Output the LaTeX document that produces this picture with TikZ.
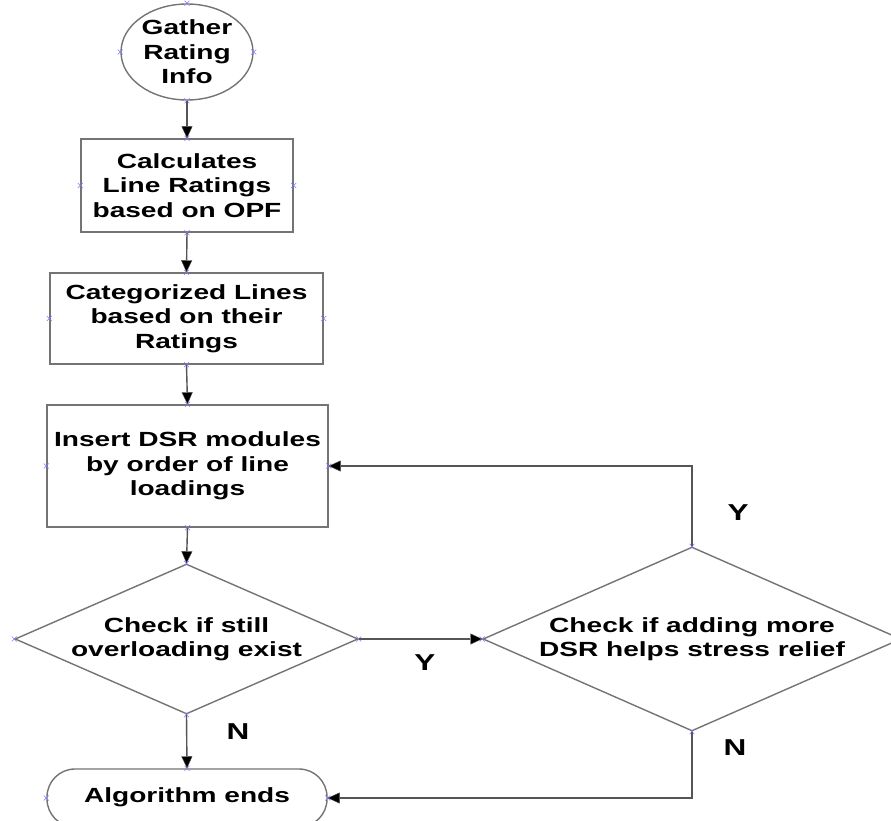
\documentclass[tikz,border=0pt]{standalone}
\usepackage{fontspec}
\setmainfont{Liberation Sans}[FakeStretch=1.37]
\usetikzlibrary{shapes.geometric,arrows.meta,calc}
\definecolor{shapegray}{HTML}{747474}
\definecolor{linegray}{HTML}{555555}
\definecolor{markblue}{HTML}{7C7CFF}
\tikzset{
  shp/.style={draw=shapegray, line width=1.4pt, inner sep=0pt, fill=white},
  boxnode/.style={shp, rectangle, align=center, font=\fontsize{20.5}{24.5}\selectfont\bfseries},
  txt/.style={align=center, inner sep=0pt, font=\fontsize{20.5}{24.5}\selectfont\bfseries},
  lbl/.style={inner sep=0pt, font=\fontsize{23}{23}\selectfont\bfseries},
  conn/.style={draw=linegray, line width=1.4pt, -{Triangle[length=12pt,width=11pt,fill=black,line width=0.4pt]}},
  cmark/.style={draw=markblue, line width=0.6pt}
}
\newcommand{\cxmark}[1]{\draw[cmark] ($(#1)+(-2.5,-2.5)$) -- ($(#1)+(2.5,2.5)$) ($(#1)+(-2.5,2.5)$) -- ($(#1)+(2.5,-2.5)$);}
\begin{document}
\begin{tikzpicture}[x=1pt,y=-1pt]
\useasboundingbox (0,0) rectangle (891,821);
\fill[white] (0,0) rectangle (891,821);
% shapes
\node[shp, ellipse, minimum width=132pt, minimum height=96pt] (start) at (187,52) {};
\node[txt] (starttxt) at (start.center) {Gather\\Rating\\Info};
\node[boxnode, minimum width=212pt, minimum height=93pt] (b1) at (187,185.5) {Calculates\\Line Ratings\\based on OPF};
\node[boxnode, minimum width=273pt, minimum height=91pt] (b2) at (186.5,318.5) {Categorized Lines\\based on their\\Ratings};
\node[boxnode, minimum width=281pt, minimum height=122pt] (b3) at (187.5,466) {Insert DSR modules\\by order of line\\loadings};
\node[shp, diamond, minimum width=343pt, minimum height=150pt] (d1) at (186.5,639) {};
\node[txt] (d1txt) at (d1.center) {Check if still\\overloading exist};
\node[shp, diamond, minimum width=418pt, minimum height=184pt] (d2) at (692,639) {};
\node[txt] (d2txt) at (d2.center) {Check if adding more\\DSR helps stress relief};
\node[shp, rectangle, rounded corners=28pt, minimum width=280pt, minimum height=58pt] (end) at (187,798) {};
\node[txt] (endtxt) at (187,797) {Algorithm ends};
% connection marks
\foreach \n in {start,b1,b2,b3,d1,d2,end}{
  \foreach \a in {north,south,east,west}{ \cxmark{\n.\a} }
}
% connectors
\draw[conn] (start.south) -- (b1.north);
\draw[conn] (b1.south) -- (b2.north);
\draw[conn] (b2.south) -- (b3.north);
\draw[conn] (b3.south) -- (d1.north);
\draw[conn] (d1.south) -- (end.north);
\draw[conn] (d1.east) -- (d2.west);
\draw[conn] (d2.north) |- (b3.east);
\draw[conn] (d2.south) |- (end.east);
% labels
\node[lbl] (ly1) at (425,663) {Y};
\node[lbl] (ly2) at (738,513) {Y};
\node[lbl] (ln1) at (238,732) {N};
\node[lbl] (ln2) at (735,748) {N};
\end{tikzpicture}
\end{document}
